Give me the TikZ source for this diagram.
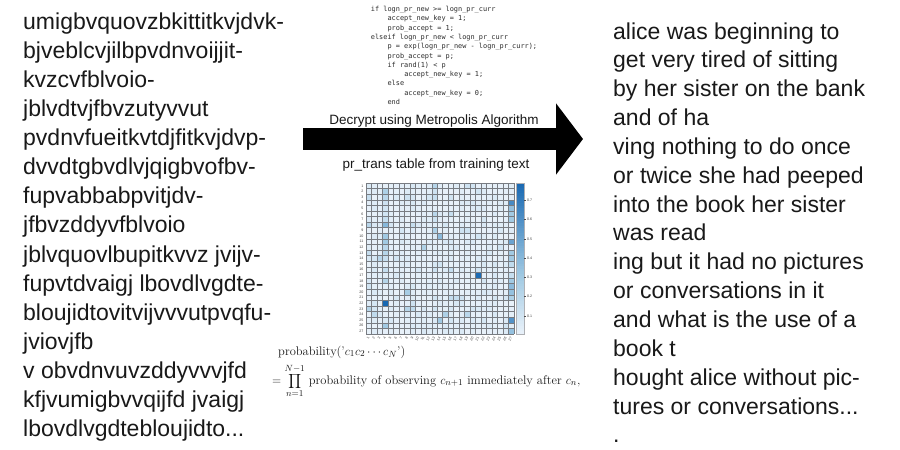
\documentclass[tikz,border=0pt]{standalone}
\usepackage{fontspec}
\newfontfamily\hv{Liberation Sans}
\newfontfamily\cons{DejaVu Sans Mono}
\usetikzlibrary{arrows.meta}
\definecolor{hcZ}{RGB}{234,242,250}
\definecolor{hcA}{RGB}{158,200,226}
\definecolor{hcB}{RGB}{24,104,178}
\definecolor{gridc}{RGB}{120,124,130}
\definecolor{txt}{RGB}{25,25,25}
\definecolor{codec}{RGB}{45,45,45}
\newcommand\threedots{...}
\newcommand\hmcol[1]{%
  \pgfmathsetmacro\hmt{min(1,max(0,#1/0.79))}%
  \ifdim\hmt pt<0.4pt
    \pgfmathtruncatemacro\hmp{\hmt/0.4*100}\colorlet{cellc}{hcA!\hmp!hcZ}%
  \else
    \pgfmathtruncatemacro\hmp{(\hmt-0.4)/0.6*100}\colorlet{cellc}{hcB!\hmp!hcA}%
  \fi}
\begin{document}
\begin{tikzpicture}[x=1pt,y=-1pt,
  ltext/.style={anchor=base west, inner sep=0pt, font=\hv\fontsize{23}{28}\selectfont, text=txt},
  codeln/.style={anchor=base west, inner sep=0pt, font=\cons\fontsize{6.9}{9}\selectfont, text=codec},
  albl/.style={anchor=base, inner sep=0pt, font=\hv\fontsize{13.5}{16}\selectfont, text=txt},
  hmlbl/.style={inner sep=0pt, font=\hv\fontsize{3.6}{4}\selectfont, text=black!75},
  hmgrid/.style={draw=gridc, line width=0.55pt},
  frm/.style={anchor=base west, inner sep=0pt, font=\fontsize{12.5}{14}\selectfont, text=txt},
  bigarrow/.style={line width=22pt, -{Triangle[length=27pt, width=70pt]}},
]
\useasboundingbox (0,0) rectangle (900,450);
\fill[white] (0,0) rectangle (900,450);

% left ciphertext
\foreach \s [count=\i] in {umigbvquovzbkittitkvjdvk-, bjveblcvjilbpvdnvoijjit-, kvzcvfblvoio-,
  jblvdtvjfbvzutyvvut, pvdnvfueitkvtdjfitkvjdvp-, dvvdtgbvdlvjqigbvofbv-, fupvabbabpvitjdv-,
  jfbvzddyvfblvoio, jblvquovlbupitkvvz jvijv-, fupvtdvaigj lbovdlvgdte-, bloujidtovitvijvvvutpvqfu-,
  jviovjfb, v obvdnvuvzddyvvvjfd, kfjvumigbvvqijfd jvaigj, lbovdlvgdtebloujidto\threedots}
  \node[ltext] (lt\i) at (23,{29+29.14*(\i-1)}) {\s};

% right plaintext
\foreach \s [count=\i] in {alice was beginning to, get very tired of sitting, by her sister on the bank,
  and of ha, ving nothing to do once, or twice she had peeped, into the book her sister, was read,
  ing but it had no pictures, or conversations in it, and what is the use of a, book t,
  hought alice without pic-, tures or conversations\threedots, .}
  \node[ltext] (rt\i) at (613,{39+28.85*(\i-1)}) {\s};

% code
\foreach \ind/\txt [count=\i] in {0/if logn\_pr\_new >= logn\_pr\_curr, 4/accept\_new\_key = 1;,
  4/prob\_accept = 1;, 0/elseif logn\_pr\_new < logn\_pr\_curr, 4/p = exp(logn\_pr\_new - logn\_pr\_curr);,
  4/prob\_accept = p;, 4/if rand(1) < p, 8/accept\_new\_key = 1;, 4/else, 8/accept\_new\_key = 0;, 4/end}
  \node[codeln] (cd\i) at ({370.7+\ind*4.17},{11.5+9.3*(\i-1)}) {\txt};

% arrow
\coordinate (arS) at (303,139);
\coordinate (arE) at (583,139);
\draw[bigarrow] (arS) -- (arE);
\node[albl] (dec) at (434,124) {Decrypt using Metropolis Algorithm};
\node[albl] (prt) at (436,168) {pr\_trans table from training text};

% heatmap
\begin{scope}[shift={(366,183)}, x=5.4815pt, y=-5.5926pt]
\pgfmathsetseed{11}
\foreach \r in {1,...,27}{
  \foreach \c in {1,...,27}{
    \pgfmathsetmacro\v{0.01+0.09*rnd*rnd}
    \hmcol{\v}
    \fill[cellc] (\c-1,\r-1) rectangle (\c,\r);
  }
}
\foreach \r/\c/\v in {1/13/0.22, 1/19/0.12, 1/20/0.1,
  2/4/0.25, 2/13/0.12, 2/21/0.1,
  3/1/0.15, 3/4/0.2, 3/8/0.12, 3/13/0.15, 3/16/0.1,
  4/27/0.62, 4/4/0.12, 5/27/0.35, 5/4/0.1,
  6/13/0.2, 6/16/0.15, 6/27/0.3, 6/4/0.1,
  7/4/0.15, 7/13/0.12, 7/27/0.3,
  8/1/0.2, 8/4/0.4, 8/9/0.15,
  9/13/0.25, 9/18/0.12, 9/19/0.12,
  10/4/0.3, 10/14/0.38, 10/21/0.1,
  11/4/0.3, 11/27/0.5,
  12/4/0.2, 12/11/0.25, 12/25/0.1,
  13/1/0.15, 13/4/0.22, 13/27/0.3,
  14/3/0.2, 14/4/0.15, 14/6/0.1, 14/27/0.3,
  15/27/0.18, 15/14/0.1,
  16/4/0.15, 16/13/0.12, 16/16/0.15, 16/21/0.1,
  17/21/0.78, 17/27/0.15,
  18/4/0.22, 18/27/0.3, 19/27/0.38, 19/1/0.1,
  20/8/0.28, 20/27/0.35,
  21/16/0.15, 21/17/0.15, 21/18/0.12, 21/27/0.25, 21/13/0.1,
  22/4/0.79, 22/9/0.12,
  23/1/0.22, 23/8/0.22, 23/9/0.18, 23/13/0.1,
  24/2/0.18, 24/15/0.25, 24/19/0.2,
  25/14/0.3, 25/27/0.58, 26/4/0.3, 26/26/0.1, 27/27/0.35}{
  \hmcol{\v}
  \fill[cellc] (\c-1,\r-1) rectangle (\c,\r);
}
\foreach \k in {0,...,27}{
  \draw[hmgrid] (\k,0) -- (\k,27);
  \draw[hmgrid] (0,\k) -- (27,\k);
}
\foreach \r in {1,...,27}
  \node[hmlbl, anchor=east] (rl\r) at (-0.45,\r-0.5) {\r};
\foreach \c in {1,...,27}
  \node[hmlbl, anchor=east, rotate=60] (cl\c) at (\c-0.5,27.5) {\c};
\end{scope}

% colorbar
\foreach \k in {0,...,59}{
  \pgfmathsetmacro\cv{0.007+(\k+0.5)/60*0.782}
  \hmcol{\cv}
  \fill[cellc] (516,{334-2.5167*(\k+1)-0.3}) rectangle (524,{334-2.5167*\k});
}
\draw[draw=gridc!60, line width=0.4pt] (516,183) rectangle (524,334);
\foreach \t in {1,...,7}{
  \draw[black!70, line width=0.5pt] (524,{334-(\t/10-0.007)/0.782*151}) -- (525.6,{334-(\t/10-0.007)/0.782*151});
  \node[hmlbl, anchor=west] (cb\t) at (527,{334-(\t/10-0.007)/0.782*151}) {0.\t};
}

% formula
\node[frm] (f1) at (278,355) {probability('$c_1c_2\cdots c_N$')};
\node[frm] (f2) at (272,384) {$\displaystyle=\prod_{n=1}^{N-1}$ probability of observing $c_{n+1}$ immediately after $c_n$,};
\end{tikzpicture}
\end{document}
